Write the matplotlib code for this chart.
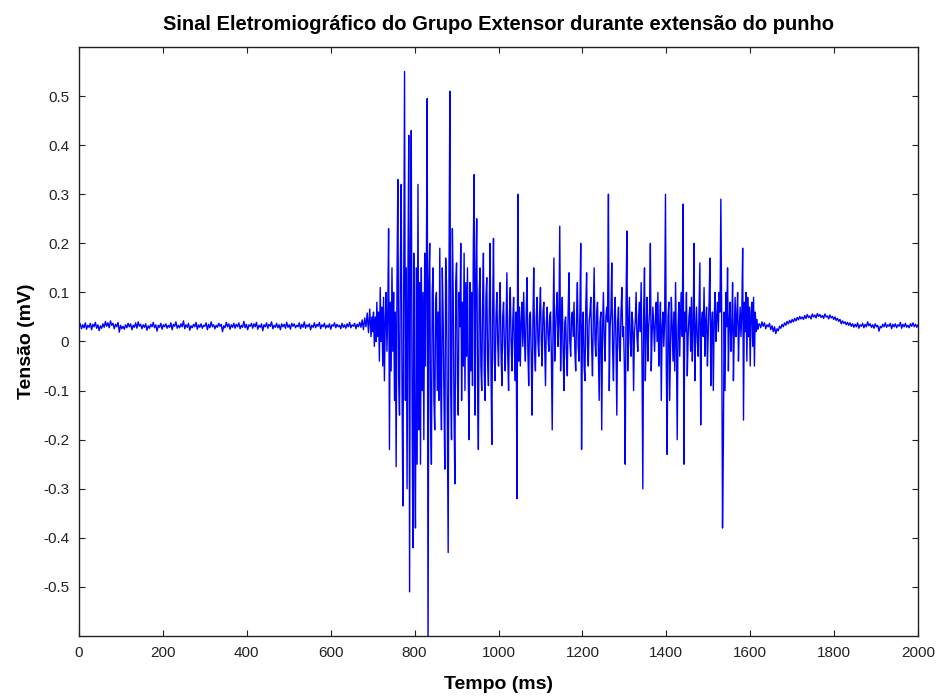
import numpy as np
import matplotlib
matplotlib.use("Agg")
import matplotlib.pyplot as plt

# signal before the contraction, one sample every 3 ms (0 .. 699 ms)
rest_pre = [
    0.030, 0.036, 0.026, 0.034, 0.028, 0.038, 0.025, 0.033, 0.029, 0.037, 0.024, 0.035, 0.030, 0.039, 0.027, 0.034, 0.022, 0.032,
    0.027, 0.036, 0.029, 0.041, 0.031, 0.038, 0.028, 0.042, 0.033, 0.037, 0.026, 0.035, 0.030, 0.039, 0.019, 0.033, 0.026, 0.031,
    0.025, 0.034, 0.028, 0.037, 0.030, 0.036, 0.024, 0.033, 0.029, 0.038, 0.027, 0.040, 0.031, 0.035, 0.026, 0.034, 0.029, 0.036,
    0.023, 0.032, 0.027, 0.035, 0.030, 0.039, 0.028, 0.034, 0.021, 0.033, 0.029, 0.037, 0.025, 0.034, 0.030, 0.036, 0.027, 0.033,
    0.029, 0.038, 0.024, 0.035, 0.031, 0.040, 0.027, 0.033, 0.028, 0.036, 0.030, 0.042, 0.026, 0.034, 0.029, 0.037, 0.023, 0.032,
    0.028, 0.035, 0.030, 0.039, 0.025, 0.034, 0.029, 0.036, 0.027, 0.033, 0.031, 0.038, 0.024, 0.035, 0.028, 0.040, 0.030, 0.034,
    0.026, 0.033, 0.029, 0.037, 0.031, 0.035, 0.020, 0.032, 0.028, 0.039, 0.030, 0.036, 0.025, 0.034, 0.029, 0.037, 0.027, 0.035,
    0.030, 0.038, 0.026, 0.033, 0.029, 0.041, 0.028, 0.035, 0.024, 0.034, 0.031, 0.037, 0.027, 0.036, 0.030, 0.039, 0.025, 0.033,
    0.029, 0.036, 0.022, 0.034, 0.030, 0.038, 0.027, 0.035, 0.031, 0.040, 0.026, 0.033, 0.029, 0.037, 0.028, 0.034, 0.024, 0.036,
    0.030, 0.035, 0.027, 0.039, 0.029, 0.034, 0.025, 0.037, 0.031, 0.036, 0.028, 0.033, 0.030, 0.038, 0.026, 0.035, 0.029, 0.040,
    0.027, 0.034, 0.030, 0.036, 0.024, 0.033, 0.029, 0.038, 0.028, 0.035, 0.031, 0.039, 0.026, 0.034, 0.030, 0.037, 0.027, 0.033,
    0.029, 0.036, 0.025, 0.034, 0.031, 0.038, 0.028, 0.035, 0.030, 0.033, 0.026, 0.037, 0.029, 0.034, 0.027, 0.036, 0.030, 0.039,
    0.028, 0.034, 0.031, 0.037, 0.026, 0.035, 0.030, 0.039, 0.029, 0.044, 0.024, 0.048, 0.030, 0.058, 0.018, 0.066, 0.010, 0.050,
]

# burst during wrist extension, one sample every 2 ms (700 .. 1620 ms)
burst = [
    0.020, 0.060, -0.010, 0.050, 0.000, 0.080, 0.010, 0.060, -0.040, 0.110, 0.000, 0.070, -0.050, 0.090, -0.080, 0.040, 0.100, -0.020, 0.060, 0.230,
    -0.220, 0.080, -0.060, 0.150, -0.020, 0.100, -0.120, 0.060, -0.255, 0.120, 0.330, -0.080, -0.150, 0.150, 0.320, -0.100, -0.335, 0.100, 0.550, -0.120,
    0.150, -0.300, 0.120, 0.420, -0.510, 0.200, 0.430, -0.150, -0.420, 0.180, -0.200, -0.380, 0.150, -0.250, 0.320, -0.180, 0.120, -0.250, 0.150, -0.100,
    0.100, -0.200, 0.180, -0.050, 0.150, 0.495, -0.650, 0.120, 0.200, -0.150, -0.250, 0.100, 0.150, -0.120, -0.180, 0.080, 0.100, -0.100, 0.060, -0.120,
    0.190, -0.080, -0.180, 0.150, 0.050, -0.120, -0.260, 0.170, 0.120, -0.150, -0.430, 0.150, 0.510, -0.100, -0.200, 0.230, 0.100, -0.150, -0.290, 0.120,
    0.160, -0.080, -0.150, 0.100, 0.030, 0.200, -0.120, 0.080, -0.050, 0.180, -0.100, 0.120, -0.030, 0.150, -0.080, -0.200, 0.120, -0.060, 0.100, -0.090,
    0.200, 0.340, -0.150, 0.120, 0.250, -0.080, -0.220, 0.100, 0.150, -0.050, -0.100, 0.080, 0.180, -0.060, -0.120, 0.090, 0.130, -0.040, -0.090, 0.070,
    0.200, -0.050, -0.210, 0.060, 0.210, -0.030, -0.080, 0.050, 0.100, 0.000, -0.050, 0.060, 0.120, -0.020, -0.090, 0.050, 0.080, -0.010, -0.060, 0.040,
    0.140, -0.030, -0.100, 0.050, 0.110, 0.000, -0.060, 0.040, 0.090, -0.020, -0.080, 0.060, -0.320, 0.300, -0.040, 0.070, -0.050, 0.040, 0.080, -0.010,
    0.100, 0.010, -0.040, 0.060, 0.130, -0.020, -0.090, 0.050, 0.060, -0.030, -0.150, 0.040, 0.150, -0.020, -0.060, 0.050, 0.090, 0.000, -0.030, 0.060,
    0.110, 0.000, -0.050, 0.060, 0.080, -0.010, -0.090, 0.040, 0.070, 0.010, -0.020, 0.050, 0.060, -0.030, -0.180, 0.030, 0.170, -0.040, 0.020, 0.070,
    0.100, -0.010, 0.040, 0.235, -0.060, 0.030, 0.090, -0.020, -0.100, 0.040, 0.050, -0.030, -0.070, 0.060, 0.140, 0.000, -0.030, 0.050, 0.060, 0.010,
    0.080, -0.020, -0.060, 0.050, 0.120, -0.010, -0.040, 0.060, 0.200, -0.220, 0.030, 0.060, -0.050, -0.080, 0.070, 0.140, -0.010, -0.050, 0.040, 0.060,
    0.090, -0.010, -0.070, 0.050, 0.150, 0.000, -0.030, 0.060, 0.080, -0.020, -0.120, 0.040, 0.060, -0.180, 0.020, 0.100, 0.010, -0.040, 0.050, 0.070,
    0.040, 0.300, -0.100, 0.030, 0.060, 0.160, -0.020, -0.080, 0.050, 0.090, 0.000, -0.150, 0.040, 0.070, -0.010, -0.040, 0.060, 0.110, 0.010, 0.030,
    -0.050, -0.250, 0.080, 0.225, -0.060, 0.030, 0.090, 0.000, -0.030, 0.060, 0.040, -0.100, 0.020, 0.040, 0.100, 0.010, -0.020, 0.050, 0.080, 0.020,
    0.120, -0.030, -0.300, 0.060, 0.150, -0.080, 0.020, 0.090, -0.040, 0.030, 0.060, 0.200, -0.060, 0.010, 0.070, 0.030, -0.020, 0.050, 0.080, 0.000,
    0.100, -0.050, 0.020, 0.080, -0.120, 0.030, 0.060, -0.010, 0.040, 0.300, -0.050, -0.230, 0.050, 0.080, -0.120, -0.020, 0.090, 0.030, -0.040, 0.060,
    -0.060, 0.120, 0.000, -0.200, 0.030, 0.080, -0.030, 0.060, 0.100, 0.010, 0.280, -0.250, 0.060, 0.020, 0.100, -0.070, 0.010, 0.050, 0.070, -0.020,
    0.090, -0.040, 0.030, 0.200, -0.080, 0.020, 0.070, 0.000, -0.030, 0.060, 0.160, -0.170, 0.040, 0.060, 0.010, 0.110, -0.030, 0.040, 0.070, -0.050,
    0.020, 0.080, 0.170, -0.090, 0.030, 0.060, -0.100, 0.040, 0.100, 0.000, 0.050, 0.080, 0.020, 0.100, 0.060, 0.290, 0.050, -0.380, -0.210, 0.060,
    -0.100, 0.100, 0.030, 0.150, -0.060, 0.040, 0.080, -0.020, 0.030, 0.120, -0.080, 0.020, 0.090, 0.010, 0.050, 0.100, -0.040, 0.030, 0.070, 0.010,
    0.060, 0.190, -0.160, 0.080, 0.020, 0.100, -0.040, 0.090, 0.010, 0.070, -0.050, 0.060, 0.080, -0.010, 0.090, -0.050, 0.060, 0.020, 0.045, 0.025,
    0.035,
]

# signal after the contraction, one sample every 3 ms (1622 .. 2000 ms)
rest_post = [
    0.036, 0.028, 0.040, 0.031, 0.038, 0.026, 0.034, 0.030, 0.037, 0.024, 0.032, 0.020, 0.030, 0.016, 0.026, 0.022, 0.031, 0.027,
    0.035, 0.030, 0.038, 0.033, 0.041, 0.036, 0.043, 0.038, 0.045, 0.040, 0.047, 0.042, 0.049, 0.044, 0.051, 0.046, 0.050, 0.045,
    0.053, 0.047, 0.055, 0.049, 0.052, 0.046, 0.056, 0.050, 0.054, 0.048, 0.057, 0.051, 0.055, 0.049, 0.053, 0.047, 0.056, 0.050,
    0.052, 0.046, 0.054, 0.048, 0.051, 0.045, 0.050, 0.043, 0.047, 0.041, 0.045, 0.036, 0.042, 0.037, 0.040, 0.034, 0.039, 0.033,
    0.038, 0.031, 0.036, 0.029, 0.035, 0.030, 0.038, 0.027, 0.034, 0.031, 0.037, 0.028, 0.035, 0.030, 0.040, 0.032, 0.036, 0.029,
    0.034, 0.027, 0.036, 0.030, 0.033, 0.021, 0.031, 0.028, 0.035, 0.030, 0.038, 0.029, 0.034, 0.031, 0.037, 0.026, 0.035, 0.030,
    0.036, 0.028, 0.034, 0.031, 0.039, 0.027, 0.035, 0.030, 0.037, 0.029, 0.033, 0.028, 0.036, 0.031, 0.038, 0.030, 0.035, 0.029,
    0.034,
]

x_ticks = [0, 200, 400, 600, 800, 1000, 1200, 1400, 1600, 1800, 2000]
y_ticks = [-0.5, -0.4, -0.3, -0.2, -0.1, 0, 0.1, 0.2, 0.3, 0.4, 0.5]
y_labels = ['-0.5', '-0.4', '-0.3', '-0.2', '-0.1', '0',
            '0.1', '0.2', '0.3', '0.4', '0.5']

t = np.concatenate([np.arange(len(rest_pre)) * 3,
                    700 + np.arange(len(burst)) * 2,
                    1622 + np.arange(len(rest_post)) * 3])
v = np.concatenate([rest_pre, burst, rest_post])

plain = ['Liberation Sans', 'DejaVu Sans']

fig = plt.figure(figsize=(9.43, 6.99), dpi=100)
ax = fig.add_axes([0.0838, 0.0901, 0.8897, 0.8427])
ax.plot(t, v, color='#0000ff', linewidth=1.0)

ax.set_xlim(0, 2000)
ax.set_ylim(-0.6, 0.6)
ax.set_xticks(x_ticks)
ax.set_yticks(y_ticks)
ax.set_xticklabels([str(x) for x in x_ticks], family=plain, fontsize=11)
ax.set_yticklabels(y_labels, family=plain, fontsize=11)
ax.tick_params(direction='in', top=True, right=True, length=4, width=0.8,
               colors='#222222', pad=7)
for s in ax.spines.values():
    s.set_linewidth(1.0)
    s.set_color('#222222')

ax.set_title('Sinal Eletromiográfico do Grupo Extensor durante extensão do punho',
             family=plain, fontweight='bold', fontsize=14.5, pad=12)
ax.set_xlabel('Tempo (ms)', family=plain, fontweight='bold', fontsize=14,
              labelpad=12)
ax.set_ylabel('Tensão (mV)', family=plain, fontweight='bold', fontsize=14,
              labelpad=6)

fig.savefig('out.png', dpi=100)
